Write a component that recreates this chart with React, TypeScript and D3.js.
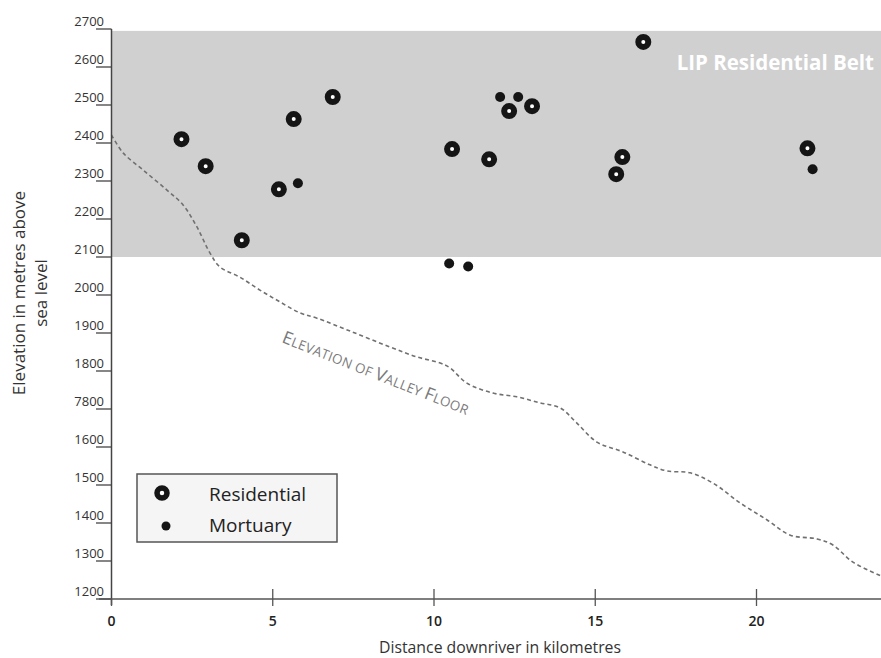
import React from "react";
import * as d3 from "d3";

const W = 881;
const H = 658;

// Data
const residentialKm = [2.17, 2.92, 4.04, 5.19, 5.65, 6.86, 10.56, 11.71, 12.33, 13.04, 15.65, 15.84, 16.49, 21.58];
const residentialElev = [2410, 2339, 2144, 2278, 2463, 2521, 2384, 2357, 2484, 2497, 2318, 2363, 2666, 2386];

const mortuaryKm = [5.78, 10.47, 11.06, 12.05, 12.61, 21.74];
const mortuaryElev = [2294, 2083, 2075, 2521, 2521, 2331];

const valleyKm = [0, 0.36, 0.98, 1.72, 2.22, 2.65, 3.05, 3.36, 3.98, 4.6, 5.22, 5.84, 6.37, 7.4, 8.64, 9.47, 10.19, 10.5, 11.02, 11.83, 12.57, 13.29, 13.91, 14.43, 15.05, 15.86, 16.7, 17.22, 17.94, 18.65, 19.49, 20.33, 21.05, 21.88, 22.37, 22.99, 23.86];
const valleyElev = [2421, 2374, 2329, 2276, 2237, 2179, 2111, 2074, 2047, 2013, 1982, 1953, 1939, 1905, 1863, 1837, 1821, 1808, 1768, 1742, 1732, 1716, 1703, 1663, 1613, 1587, 1553, 1537, 1532, 1505, 1453, 1408, 1368, 1358, 1342, 1297, 1261];

const yTickValues = [1200, 1300, 1400, 1500, 1600, 1700, 1800, 1900, 2000, 2100, 2200, 2300, 2400, 2500, 2600, 2700];
const yTickLabels = ["1200", "1300", "1400", "1500", "1600", "7800", "1800", "1900", "2000", "2100", "2200", "2300", "2400", "2500", "2600", "2700"];
const xTickValues = [0, 5, 10, 15, 20];
const xTickLabels = ["0", "5", "10", "15", "20"];

const beltRange = [2100, 2695];
const legendItems = ["Residential", "Mortuary"];

const FONT = "'Open Sans', 'Noto Sans', sans-serif";

export default function App() {
  const x = d3.scaleLinear().domain([0, 24]).range([111.5, 885.5]);
  const y = d3.scaleLinear().domain([1200, 2700]).range([599, 29]);

  const valley = valleyKm.map((k, i) => [k, valleyElev[i]] as [number, number]);
  const line = d3
    .line<[number, number]>()
    .x((d) => x(d[0]))
    .y((d) => y(d[1]))
    .curve(d3.curveCatmullRom.alpha(0.5));

  const axisX = x(0);

  return (
    <svg
      width={W}
      height={H}
      style={{ position: "absolute", left: 0, top: 0, background: "#fff" }}
      fontFamily={FONT}
    >
      {/* Residential belt band */}
      <rect
        x={axisX}
        y={y(beltRange[1])}
        width={W - axisX}
        height={y(beltRange[0]) - y(beltRange[1])}
        fill="#d0d0d0"
      />
      <text
        x={874}
        y={70}
        textAnchor="end"
        fill="#fff"
        fontSize={20.5}
        fontWeight={700}
      >
        LIP Residential Belt
      </text>

      {/* Valley floor */}
      <path
        d={line(valley) || ""}
        fill="none"
        stroke="#707070"
        strokeWidth={1.6}
        strokeDasharray="4 3"
      />
      <text
        transform="translate(281,342) rotate(21.5)"
        fill="#7a7a7a"
        fontSize={13.3}
        letterSpacing={0.3}
      >
        <tspan fontSize={17.5}>E</tspan>LEVATION OF <tspan fontSize={17.5}>V</tspan>ALLEY <tspan fontSize={17.5}>F</tspan>LOOR
      </text>

      {/* Y axis */}
      <line x1={axisX} x2={axisX} y1={y(2700)} y2={605} stroke="#444" strokeWidth={1.5} />
      {yTickValues.map((v, i) => (
        <g key={v}>
          <line x1={96} x2={axisX} y1={y(v)} y2={y(v)} stroke="#444" strokeWidth={1.3} />
          <text x={104} y={y(v) - 3} textAnchor="end" fontSize={13} fill="#333">
            {yTickLabels[i]}
          </text>
        </g>
      ))}

      {/* X axis */}
      <line x1={99} x2={W} y1={y(1200)} y2={y(1200)} stroke="#555" strokeWidth={1.6} />
      {xTickValues.map((v, i) => (
        <g key={v}>
          <line
            x1={x(v)}
            x2={x(v)}
            y1={v === 0 ? y(1200) : y(1200) - 10}
            y2={y(1200) + 7}
            stroke="#555"
            strokeWidth={1.3}
          />
          <text x={x(v)} y={626} textAnchor="middle" fontSize={14} fontWeight={600} fill="#222">
            {xTickLabels[i]}
          </text>
        </g>
      ))}

      {/* Axis titles */}
      <text x={500} y={653} textAnchor="middle" fontSize={15.8} fill="#333">
        Distance downriver in kilometres
      </text>
      <text transform="translate(25,293) rotate(-90)" textAnchor="middle" fontSize={17} fill="#333">
        Elevation in metres above
      </text>
      <text transform="translate(47,293) rotate(-90)" textAnchor="middle" fontSize={17} fill="#333">
        sea level
      </text>

      {/* Points */}
      {mortuaryKm.map((k, i) => (
        <circle key={"m" + i} cx={x(k)} cy={y(mortuaryElev[i])} r={5} fill="#151515" />
      ))}
      {residentialKm.map((k, i) => (
        <circle
          key={"r" + i}
          cx={x(k)}
          cy={y(residentialElev[i])}
          r={5}
          fill="#fff"
          stroke="#151515"
          strokeWidth={6}
        />
      ))}

      {/* Legend */}
      <rect x={137} y={474} width={200} height={68} fill="#f5f5f5" stroke="#555" strokeWidth={1.5} />
      <circle cx={162} cy={493} r={5} fill="#fff" stroke="#151515" strokeWidth={5.5} />
      <circle cx={166} cy={526} r={4.5} fill="#151515" />
      <text x={209} y={501} fontSize={19} fill="#222">
        {legendItems[0]}
      </text>
      <text x={209} y={532} fontSize={19} fill="#222">
        {legendItems[1]}
      </text>
    </svg>
  );
}
